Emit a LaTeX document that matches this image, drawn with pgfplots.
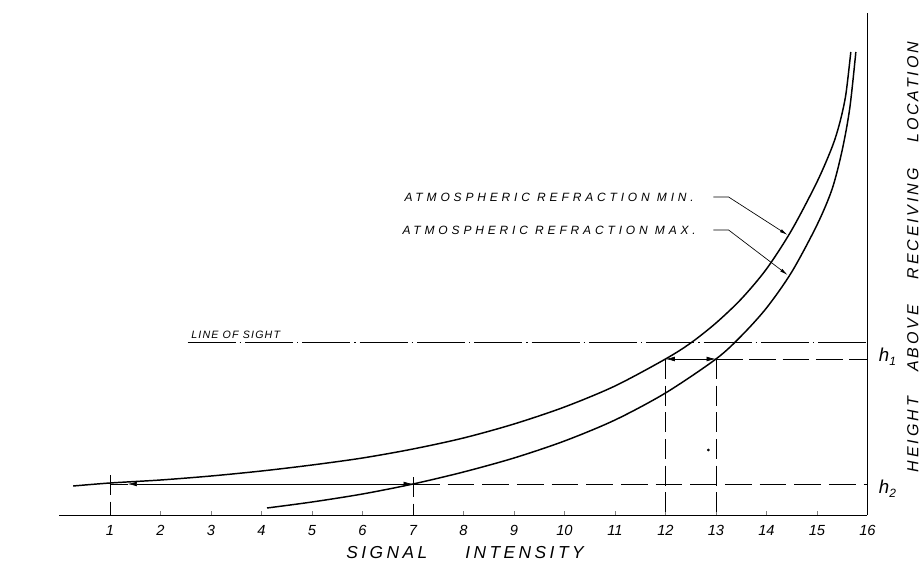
\documentclass[border=0pt]{standalone}
\usepackage{fontspec}
\setmainfont{Liberation Sans}
\usepackage{pgfplots}
\usepackage{pgfplotstable}
\pgfplotsset{compat=1.18}
\usetikzlibrary{arrows.meta}

\pgfplotstableread{
x y
0.27 29
1 32
2 35
3 39
4 44
5 50
6 57
7 66
8 77
9 91
10 108
11 129
12 156
12.5 172
13 192
13.5 216
14 246
14.5 285
15 333
15.3 368
15.45 392
15.57 420
15.67 463
}\mincurve

\pgfplotstableread{
x y
4.11 7
5 13
6 21
7 31
8 43
9 57
10 74
11 95
12 122
13 156
13.5 179
14 207
14.5 243
15 290
15.3 326
15.5 365
15.65 407
15.77 463
}\maxcurve

\begin{document}
\begin{tikzpicture}
\useasboundingbox (-44.6pt,-37.5pt) rectangle (648.4pt,386.25pt);
\begin{axis}[
  scale only axis, width=606pt, height=376.5pt,
  xmin=0, xmax=16, ymin=0, ymax=502,
  axis x line=bottom, axis y line=right,
  axis line style={-, line width=0.6pt},
  xtick={1,...,16}, ytick=\empty,
  xticklabels={1,2,3,4,5,6,7,8,9,10,11,12,13,14,15,16},
  tick align=inside, major tick length=3pt,
  tick style={line width=0.5pt},
  xticklabel style={font=\itshape\fontsize{11}{13}\selectfont, yshift=-4pt},
  clip=false,
]
% curves
\addplot[line width=1.1pt, smooth] table {\mincurve};
\addplot[line width=1.1pt, smooth] table {\maxcurve};
% line of sight
\addplot[line width=0.6pt, dash pattern=on 36pt off 3pt on 1pt off 3pt] coordinates {(2.54,173) (16,173)};
% h1
\addplot[line width=0.6pt, dash pattern=on 20pt off 5pt] coordinates {(13,156) (16,156)};
\addplot[line width=0.5pt, {Latex[length=7pt,width=3.5pt]}-{Latex[length=7pt,width=3.5pt]}] coordinates {(12,156) (13,156)};
\addplot[line width=0.6pt, dash pattern=on 15pt off 5pt] coordinates {(12,156) (12,0)};
\addplot[line width=0.6pt, dash pattern=on 15pt off 5pt] coordinates {(13,156) (13,0)};
% h2
\addplot[line width=0.6pt, dash pattern=on 20pt off 6pt] coordinates {(7,31) (16,31)};
\addplot[line width=0.5pt] coordinates {(1,31) (1.35,31)};
\addplot[line width=0.5pt, {Latex[length=7pt,width=3.5pt]}-{Latex[length=7pt,width=3.5pt]}] coordinates {(1.35,31) (7,31)};
\addplot[line width=0.6pt, dash pattern=on 15pt off 5pt] coordinates {(1,40) (1,0)};
\addplot[line width=0.6pt, dash pattern=on 15pt off 5pt] coordinates {(7,38) (7,0)};
% leaders
\addplot[line width=0.5pt, -{Latex[length=6pt,width=2.5pt]}] coordinates {(12.95,318) (13.25,318) (14.42,280)};
\addplot[line width=0.5pt, -{Latex[length=6pt,width=2.5pt]}] coordinates {(12.95,285) (13.25,285) (14.42,240)};
% stray dot
\addplot[only marks, mark=*, mark size=0.8pt] coordinates {(12.85,65)};
% labels
\node[anchor=west, font=\itshape\fontsize{9}{11}\selectfont\addfontfeature{LetterSpace=32}] at (axis cs:6.74,318) {ATMOSPHERIC REFRACTION MIN.};
\node[anchor=west, font=\itshape\fontsize{9}{11}\selectfont\addfontfeature{LetterSpace=32}] at (axis cs:6.70,285) {ATMOSPHERIC REFRACTION MAX.};
\node[anchor=south west, inner sep=1pt, font=\itshape\fontsize{8}{10}\selectfont\addfontfeature{LetterSpace=11}] at (axis cs:2.58,175) {LINE OF SIGHT};
\node[font=\itshape\fontsize{13}{15}\selectfont\addfontfeature{LetterSpace=20}, yshift=-28.5pt] at (axis cs:8.03,0) {SIGNAL\hspace{2.2em}INTENSITY};
\node[font=\itshape\fontsize{12}{14}\selectfont\addfontfeature{LetterSpace=18}, rotate=90] at ([xshift=34pt]axis cs:16,258) {HEIGHT\hspace{1.6em}ABOVE\hspace{1.6em}RECEIVING\hspace{1.6em}LOCATION};
\node[font=\itshape\fontsize{14}{16}\selectfont] at ([xshift=15pt]axis cs:16,158) {h\raisebox{-3pt}{\fontsize{9}{10}\selectfont 1}};
\node[font=\itshape\fontsize{14}{16}\selectfont] at ([xshift=15pt]axis cs:16,26) {h\raisebox{-3pt}{\fontsize{9}{10}\selectfont 2}};
\end{axis}
\end{tikzpicture}
\end{document}
